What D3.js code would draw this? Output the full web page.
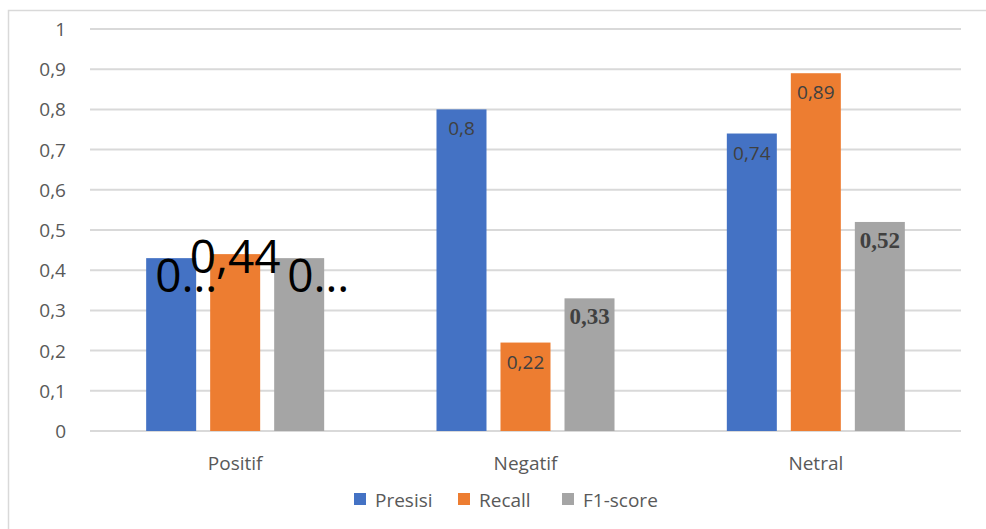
<!DOCTYPE html>
<html>
<head>
<meta charset="utf-8">
<script src="https://cdn.jsdelivr.net/npm/d3@7"></script>
<style>
  html, body { margin: 0; padding: 0; background: #fff; }
  svg { display: block; font-family: "Open Sans", Lato, sans-serif; }
</style>
</head>
<body>
<div id="chart"></div>
<script>
// chart data
const categories = ['Positif', 'Negatif', 'Netral'];
const seriesNames = ['Presisi', 'Recall', 'F1-score'];
const presisi = [0.43, 0.8, 0.74];
const recall = [0.44, 0.22, 0.89];
const f1score = [0.43, 0.33, 0.52];
const labelText = [['0…', '0,44', '0…'], ['0,8', '0,22', '0,33'], ['0,74', '0,89', '0,52']];
const yTicks = [0, 0.1, 0.2, 0.3, 0.4, 0.5, 0.6, 0.7, 0.8, 0.9, 1];
const colors = ['#4472c4', '#ed7d31', '#a5a5a5'];

const width = 986, height = 529;
const svg = d3.select('#chart').append('svg').attr('width', width).attr('height', height);

// outer frame (only top and left edges show in the picture)
svg.append('path')
  .attr('d', 'M8.5,' + height + ' V10.5 H' + width)
  .attr('fill', 'none').attr('stroke', '#d9d9d9').attr('stroke-width', 1.5);

const y = d3.scaleLinear().domain([0, 1]).range([431, 29]);
const x0 = d3.scaleBand().domain(categories).range([90, 961]);
const x1 = d3.scaleBand().domain(seriesNames).range([0, x0.bandwidth()])
  .paddingInner(0.21875).paddingOuter(0.8774);

// gridlines
svg.append('g').selectAll('line').data(yTicks).join('line')
  .attr('x1', 90).attr('x2', 961)
  .attr('y1', d => y(d)).attr('y2', d => y(d))
  .attr('stroke', '#d9d9d9').attr('stroke-width', 2);

// y axis labels
const fmt = d => d === 0 ? '0' : d === 1 ? '1' : String(d).replace('.', ',');
svg.append('g').selectAll('text').data(yTicks).join('text')
  .attr('x', 66).attr('y', d => y(d) + 7)
  .attr('text-anchor', 'end').attr('font-size', 19).attr('fill', '#595959')
  .text(fmt);

// bars
const rows = categories.map((c, i) => ({cat: c, vals: [presisi[i], recall[i], f1score[i]]}));
const groups = svg.append('g').selectAll('g').data(rows).join('g')
  .attr('transform', d => 'translate(' + x0(d.cat) + ',0)');
groups.selectAll('rect').data(d => d.vals.map((v, j) => ({v: v, s: seriesNames[j], j: j}))).join('rect')
  .attr('x', d => x1(d.s)).attr('width', x1.bandwidth())
  .attr('y', d => y(d.v)).attr('height', d => y(0) - y(d.v))
  .attr('fill', d => colors[d.j]);

// data labels (styles copy the mixed formatting of the original)
const bigFont = '"Open Sans", sans-serif';
const positifStyle = [
  {dx: 9, dy: 292, anchor: 'start', size: 46},
  {dx: 0, dy: 273, anchor: 'middle', size: 46},
  {dx: 13, dy: 292, anchor: 'start', size: 46}
];
const plainStyle = {size: 19, fill: '#404040', family: '"Open Sans", sans-serif', weight: 400, off: 26};
const boldStyle = {size: 23, fill: '#404040', family: '"Liberation Serif", "DejaVu Serif", serif', weight: 700, off: 26};

categories.forEach((c, i) => {
  const vals = rows[i].vals;
  vals.forEach((v, j) => {
    const bx = x0(c) + x1(seriesNames[j]);
    const t = svg.append('text').text(labelText[i][j]);
    if (i === 0) {
      const st = positifStyle[j];
      t.attr('x', st.anchor === 'start' ? bx + st.dx : bx + x1.bandwidth() / 2)
        .attr('y', st.dy).attr('text-anchor', st.anchor)
        .attr('font-size', st.size).attr('fill', '#000')
        .attr('font-family', bigFont);
    } else {
      const st = j === 2 ? boldStyle : plainStyle;
      t.attr('x', bx + x1.bandwidth() / 2).attr('y', y(v) + st.off)
        .attr('text-anchor', 'middle')
        .attr('font-size', st.size).attr('fill', st.fill)
        .attr('font-family', st.family).attr('font-weight', st.weight);
    }
  });
});

// category labels
svg.append('g').selectAll('text').data(categories).join('text')
  .attr('x', d => x0(d) + x0.bandwidth() / 2).attr('y', 470)
  .attr('text-anchor', 'middle').attr('font-size', 19).attr('fill', '#595959')
  .text(d => d);

// legend
const legendX = [354, 458, 562];
const legend = svg.append('g').selectAll('g').data(seriesNames).join('g')
  .attr('transform', (d, i) => 'translate(' + legendX[i] + ',493)');
legend.append('rect').attr('width', 12).attr('height', 12).attr('fill', (d, i) => colors[i]);
legend.append('text').attr('x', 21).attr('y', 14)
  .attr('font-size', 19).attr('fill', '#595959').text(d => d);
</script>
</body>
</html>
